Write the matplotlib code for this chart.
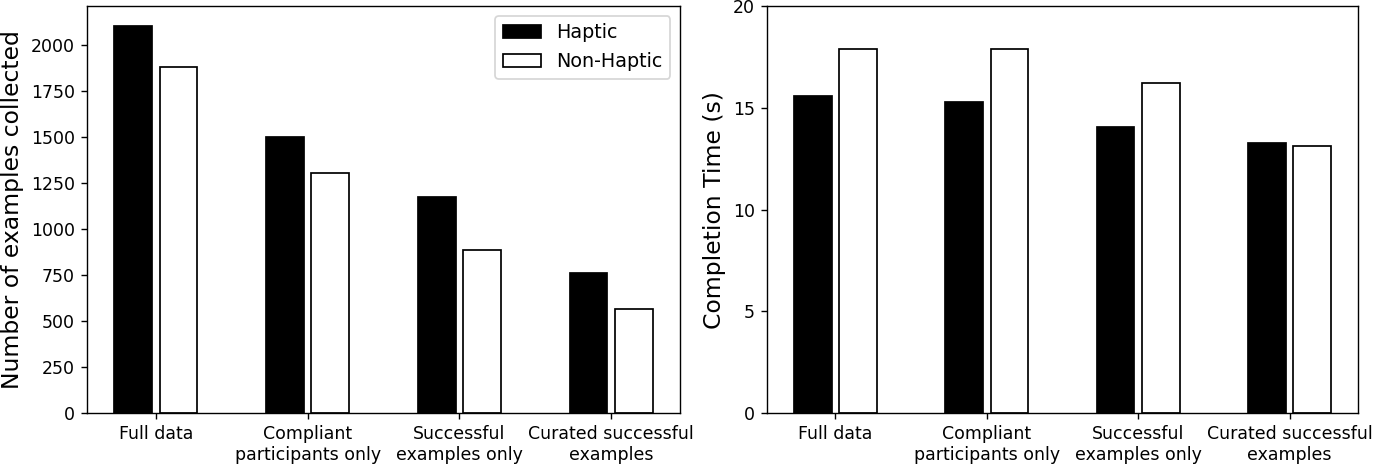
import numpy as np
import matplotlib
matplotlib.use("Agg")
import matplotlib.pyplot as plt

categories = ["Full data", "Compliant\nparticipants only",
              "Successful\nexamples only", "Curated successful\nexamples"]
count_haptic = [2105, 1500, 1172, 758]
count_non_haptic = [1878, 1303, 888, 566]
time_haptic = [15.59, 15.29, 14.07, 13.29]
time_non_haptic = [17.90, 17.90, 16.21, 13.14]

width = 0.25
offset = 0.15
x = np.arange(len(categories))

# drawn at dpi 125 so that 1392x466 pixels come out
DPI = 125
fig = plt.figure(figsize=(1392 / DPI, 466 / DPI), dpi=DPI)
ax1 = fig.add_axes([0.0625, 0.1137, 0.426, 0.873])
ax2 = fig.add_axes([0.551, 0.1137, 0.4246, 0.873])

ax1.bar(x - offset, count_haptic, width, color="black", edgecolor="black", label="Haptic")
ax1.bar(x + offset, count_non_haptic, width, color="white", edgecolor="black", label="Non-Haptic")
ax1.set_xticks(x)
ax1.set_xticklabels(categories, fontsize=10)
ax1.tick_params(axis="y", labelsize=10)
ax1.set_ylabel("Number of examples collected", fontsize=13.5)
ax1.legend(loc="upper right", fontsize=11)

ax2.bar(x - offset, time_haptic, width, color="black", edgecolor="black")
ax2.bar(x + offset, time_non_haptic, width, color="white", edgecolor="black")
ax2.set_xticks(x)
ax2.set_xticklabels(categories, fontsize=10)
ax2.tick_params(axis="y", labelsize=10)
ax2.set_ylim(0, 20)
ax2.set_yticks([0, 5, 10, 15, 20])
ax2.set_ylabel("Completion Time (s)", fontsize=13.5)

fig.savefig("out.png", dpi=DPI, facecolor="w")
